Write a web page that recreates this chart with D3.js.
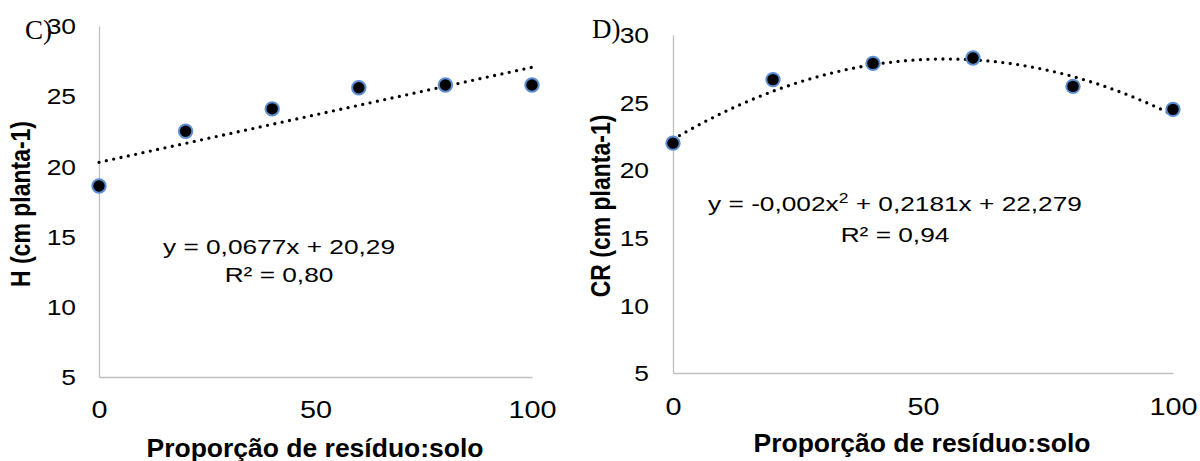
<!DOCTYPE html>
<html>
<head>
<meta charset="utf-8">
<script src="https://cdn.jsdelivr.net/npm/d3@7"></script>
<style>
  body { margin: 0; background: #fff; }
  svg text { fill: #000; }
</style>
</head>
<body>
<div id="chart"></div>
<script>
// dados
const xVals = [0, 20, 40, 60, 80, 100];
const hVals = [18.6, 22.5, 24.1, 25.6, 25.8, 25.8];
const crVals = [22.0, 26.7, 27.9, 28.3, 26.2, 24.5];
const yTicks = [5, 10, 15, 20, 25, 30];
const xTicks = [0, 50, 100];
const hFit = [20.29, 0.0677];            // a + b*x
const crFit = [22.279, 0.2181, -0.002];  // a + b*x + c*x^2
const hEq = ["y = 0,0677x + 20,29", "R² = 0,80"];
const crEq = ["y = -0,002x", "2", " + 0,2181x + 22,279", "R² = 0,94"];
const xTitle = "Proporção de resíduo:solo";

var sans = '"Liberation Sans", Arial, sans-serif'
var serif = '"Liberation Serif", "DejaVu Serif", serif'

var svg = d3.select('#chart')
    .append('svg')
    .attr('width', 1200)
    .attr('height', 461)
    .style('font-family', sans)

svg.append('rect').attr('width', 1200).attr('height', 461).attr('fill', '#fff')

var sx = 1.2  // texto levemente esticado na horizontal

function panel(o) {
    var x = d3.scaleLinear().domain([0, 100]).range(o.xr)
    var y = d3.scaleLinear().domain([5, 30]).range(o.yr)
    var g = svg.append('g')

    // eixo y
    var ay = g.append('g')
        .attr('transform', 'translate(' + o.xr[0] + ',0)')
        .call(d3.axisLeft(y).tickValues(yTicks).tickSize(0).tickSizeOuter(0))
    ay.select('.domain').attr('stroke', '#bfbfbf').attr('stroke-width', 1.3)
    ay.selectAll('text')
        .attr('x', 0).attr('dy', '0.35em')
        .attr('font-size', 22)
        .style('font-family', sans)
        .attr('transform', 'translate(' + (-o.ypad) + ',0) scale(' + sx + ',1)')

    // eixo x
    var ax = g.append('g')
        .attr('transform', 'translate(0,' + o.yr[0] + ')')
        .call(d3.axisBottom(x).tickValues(xTicks).tickSize(0).tickSizeOuter(0))
    ax.select('.domain').attr('stroke', '#bfbfbf').attr('stroke-width', 1.3)
    ax.selectAll('text')
        .attr('y', 0).attr('dy', 0)
        .attr('font-size', 24)
        .style('font-family', sans)
        .attr('transform', 'translate(0,' + o.xpad + ') scale(' + sx + ',1)')

    // linha de tendência pontilhada
    var xs = d3.range(0, 100.5, 1)
    var line = d3.line().x(d => x(d)).y(d => y(o.fit(d)))
    g.append('path')
        .attr('d', line(xs))
        .attr('fill', 'none')
        .attr('stroke', '#000')
        .attr('stroke-width', 3.3)
        .attr('stroke-linecap', 'round')
        .attr('stroke-dasharray', '0 7.5')

    // pontos
    g.selectAll('circle')
        .data(xVals)
        .enter().append('circle')
        .attr('cx', d => x(d))
        .attr('cy', (d, i) => y(o.vals[i]))
        .attr('r', 6.7)
        .attr('fill', '#000')
        .attr('stroke', '#5b8ed2')
        .attr('stroke-width', 2)

    // títulos
    g.append('text')
        .attr('transform', 'translate(' + o.xt[0] + ',' + o.xt[1] + ') scale(1.06,1)')
        .attr('text-anchor', 'middle')
        .attr('font-weight', 'bold')
        .attr('font-size', 25)
        .text(xTitle)

    g.append('text')
        .attr('transform', 'translate(' + o.yt[0] + ',' + o.yt[1] + ') scale(' + sx + ',1) rotate(-90)')
        .attr('text-anchor', 'middle')
        .attr('font-weight', 'bold')
        .attr('font-size', 23)
        .text(o.ytitle)

    g.append('text')
        .attr('x', o.tag[0]).attr('y', o.tag[1])
        .style('font-family', serif)
        .attr('font-size', 27)
        .text(o.tagText)

    return g
}

var gC = panel({
    xr: [99, 532], yr: [377, 26], ypad: 23, xpad: 41,
    vals: hVals,
    fit: v => hFit[0] + hFit[1] * v,
    xt: [315, 457], yt: [30, 204],
    ytitle: 'H (cm planta-1)',
    tag: [25, 39], tagText: 'C)'
})

var gD = panel({
    xr: [673, 1173], yr: [373, 35], ypad: 24, xpad: 42,
    vals: crVals,
    fit: v => crFit[0] + crFit[1] * v + crFit[2] * v * v,
    xt: [922, 452], yt: [610, 206],
    ytitle: 'CR (cm planta-1)',
    tag: [592, 38], tagText: 'D)'
})

// equações
gC.append('text')
    .attr('transform', 'translate(279,254) scale(1.25,1)')
    .attr('text-anchor', 'middle').attr('font-size', 21)
    .text(hEq[0])
gC.append('text')
    .attr('transform', 'translate(279,282) scale(1.25,1)')
    .attr('text-anchor', 'middle').attr('font-size', 21)
    .text(hEq[1])

var t = gD.append('text')
    .attr('transform', 'translate(895,211) scale(1.25,1)')
    .attr('text-anchor', 'middle').attr('font-size', 21)
t.append('tspan').text(crEq[0])
t.append('tspan').attr('dy', -8).attr('font-size', 14).text(crEq[1])
t.append('tspan').attr('dy', 8).text(crEq[2])
gD.append('text')
    .attr('transform', 'translate(895,242) scale(1.25,1)')
    .attr('text-anchor', 'middle').attr('font-size', 21)
    .text(crEq[3])
</script>
</body>
</html>
